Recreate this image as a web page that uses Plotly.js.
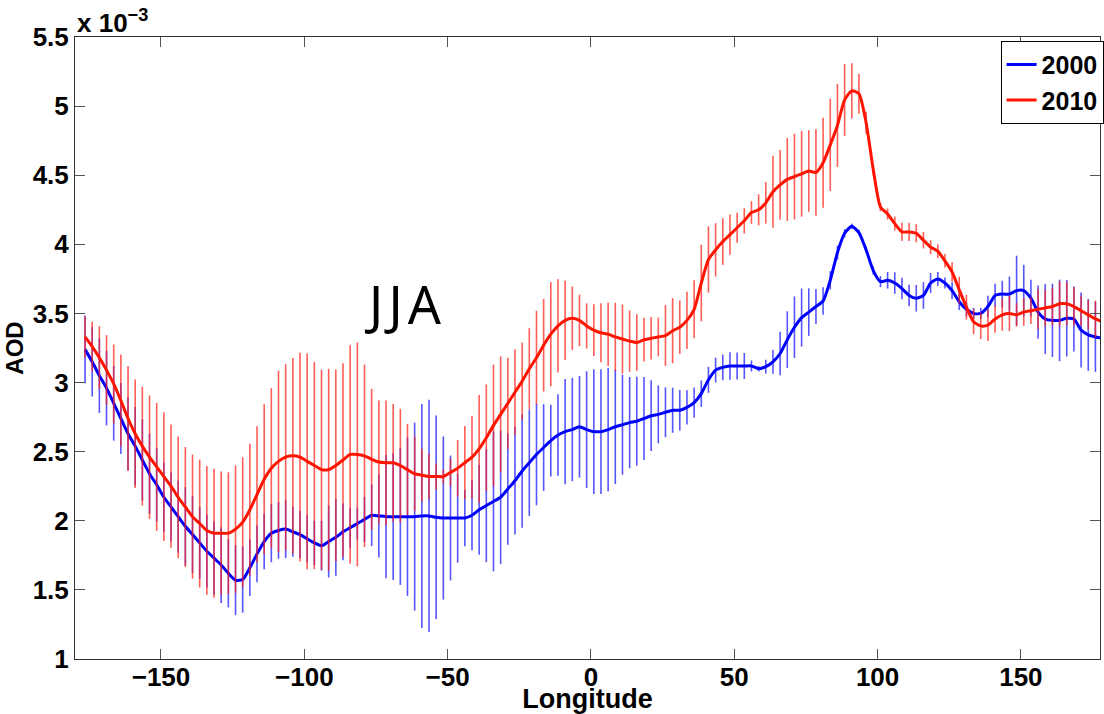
<!DOCTYPE html>
<html>
<head>
<meta charset="utf-8">
<script src="https://cdn.plot.ly/plotly-3.0.1.min.js"></script>
<style>html,body{margin:0;padding:0;background:#fff;}#chart{width:1104px;height:714px;}</style>
</head>
<body>
<div id="chart"></div>
<script>
// Longitude of each sample (degrees)
const longitude = [-176.5,-174,-171.5,-169,-166.5,-164,-161.5,-159,-156.5,-154,-151.5,-149,-146.5,-144,-141.5,-139,-136.5,-134,-131.5,-129,-126.5,-124,-121.5,-119,-116.5,-114,-111.5,-109,-106.5,-104,-101.5,-99,-96.5,-94,-91.5,-89,-86.5,-84,-81.5,-79,-76.5,-74,-71.5,-69,-66.5,-64,-61.5,-59,-56.5,-54,-51.5,-49,-46.5,-44,-41.5,-39,-36.5,-34,-31.5,-29,-26.5,-24,-21.5,-19,-16.5,-14,-11.5,-9,-6.5,-4,-1.5,1,3.5,6,8.5,11,13.5,16,18.5,21,23.5,26,28.5,31,33.5,36,38.5,41,43.5,46,48.5,51,53.5,56,58.5,61,63.5,66,68.5,71,73.5,76,78.5,81,83.5,86,88.5,91,93.5,96,98.5,101,103.5,106,108.5,111,113.5,116,118.5,121,123.5,126,128.5,131,133.5,136,138.5,141,143.5,146,148.5,151,153.5,156,158.5,161,163.5,166,168.5,171,173.5,176,178.5];

// AOD (x 10^-3), year 2000
const aod2000 = [3.24,3.15,3.05,2.96,2.85,2.74,2.63,2.54,2.44,2.34,2.26,2.17,2.10,2.03,1.96,1.90,1.84,1.78,1.73,1.68,1.62,1.57,1.575,1.66,1.76,1.85,1.91,1.93,1.94,1.92,1.90,1.87,1.84,1.82,1.85,1.88,1.92,1.95,1.98,
2.01,2.04,2.035,2.03,2.03,2.03,2.03,2.03,2.035,2.035,2.025,2.02,2.02,2.02,2.02,2.04,2.08,2.11,2.14,2.17,2.23,2.29,2.36,2.42,2.48,2.53,2.58,2.62,2.645,2.66,2.68,2.66,2.645,
2.645,2.66,2.68,2.695,2.71,2.72,2.74,2.76,2.77,2.785,2.80,2.80,2.82,2.855,2.92,3.02,3.09,3.11,3.12,3.12,3.12,3.12,3.10,3.115,3.15,3.21,3.31,3.40,3.47,3.51,3.55,
3.59,3.74,3.94,4.08,4.13,4.085,3.96,3.81,3.73,3.74,3.72,3.68,3.63,3.61,3.63,3.72,3.75,3.72,3.665,3.585,3.53,3.50,3.50,3.55,3.63,3.64,3.64,3.665,3.665,3.61,3.51,3.46,3.45,3.45,3.465,3.46,3.38,3.345,3.33,3.32];

// error half-width, year 2000
const err2000 = [0.245,0.25,0.27,0.27,0.27,0.257,0.265,0.283,0.295,0.29,0.265,0.25,0.25,0.26,0.283,0.277,0.26,0.265,0.265,0.274,0.247,0.253,0.24,0.205,0.205,0.2,0.21,0.205,0.21,0.18,0.17,0.17,0.16,0.18,0.26,0.277,0.205,0.145,0.115,
0.163,0.223,0.30,0.446,0.458,0.494,0.573,0.68,0.81,0.84,0.736,0.59,0.452,0.323,0.205,0.253,0.326,0.41,0.506,0.482,0.404,0.39,0.41,0.386,0.368,0.314,0.26,0.295,0.38,0.374,0.368,0.422,0.452,
0.452,0.446,0.414,0.362,0.33,0.322,0.30,0.256,0.21,0.18,0.163,0.147,0.124,0.11,0.096,0.094,0.09,0.093,0.10,0.097,0.094,0.04,0.02,0.05,0.087,0.157,0.205,0.223,0.21,0.172,0.127,0.10,0.066,0.05,
0.03,0.02,0.02,0.02,0.03,0.04,0.06,0.078,0.078,0.078,0.096,0.096,0.072,0.05,0.04,0.06,0.06,0.05,0.04,0.04,0.078,0.084,0.096,0.127,0.253,0.187,0.133,0.193,0.253,0.265,0.295,0.277,0.235,0.271,0.26,0.253,0.25];

// AOD (x 10^-3), year 2010
const aod2010 = [3.33,3.26,3.18,3.09,2.99,2.87,2.74,2.63,2.54,2.46,2.39,2.32,2.25,2.17,2.10,2.03,1.98,1.93,1.91,1.91,1.91,1.94,1.99,2.08,2.19,2.30,2.38,2.43,2.46,2.47,2.46,2.43,2.40,2.37,2.37,2.40,2.44,2.48,2.48,
2.47,2.445,2.425,2.42,2.42,2.40,2.37,2.34,2.33,2.32,2.32,2.32,2.35,2.38,2.42,2.46,2.52,2.60,2.69,2.77,2.85,2.93,3.01,3.10,3.18,3.27,3.35,3.41,3.45,3.465,3.45,3.41,3.38,
3.36,3.35,3.33,3.315,3.30,3.29,3.31,3.32,3.33,3.34,3.375,3.40,3.45,3.53,3.72,3.89,3.96,4.02,4.07,4.12,4.17,4.23,4.25,4.30,
4.38,4.43,4.47,4.49,4.51,4.53,4.52,4.59,4.72,4.86,5.045,5.11,5.09,4.88,4.54,4.27,4.22,4.15,4.09,4.09,4.08,4.03,3.98,3.95,3.88,3.80,3.67,3.545,3.44,3.41,3.415,3.46,3.49,3.50,3.49,3.51,3.52,3.53,3.54,3.55,3.57,3.57,3.55,3.52,3.49,3.46,3.44];

// error half-width, year 2010
const err2010 = [0.15,0.18,0.227,0.253,0.285,0.333,0.379,0.393,0.43,0.446,0.463,0.466,0.446,0.44,0.434,0.449,0.463,0.466,0.466,0.446,0.441,0.461,0.47,0.478,0.494,0.543,0.579,0.656,0.673,0.707,0.755,0.78,0.75,0.724,0.73,0.695,0.70,0.79,0.81,
0.66,0.51,0.446,0.45,0.425,0.41,0.33,0.27,0.19,0.165,0.094,0.05,0.10,0.205,0.265,0.30,0.39,0.386,0.44,0.42,0.33,0.31,0.28,0.293,0.34,0.335,0.377,0.338,0.287,0.23,0.187,0.163,0.187,0.213,0.23,0.247,0.25,0.222,0.205,
0.158,0.154,0.14,0.22,0.236,0.193,0.207,0.21,0.277,0.24,0.193,0.169,0.145,0.109,0.092,0.082,0.113,0.15,
0.26,0.253,0.30,0.31,0.31,0.295,0.313,0.326,0.334,0.30,0.26,0.20,0.145,0.08,0.04,0.03,0.04,0.05,0.066,0.066,0.066,0.06,0.05,0.05,0.05,0.07,0.096,0.09,0.09,0.096,0.115,0.10,0.115,0.127,0.085,0.10,0.097,0.145,0.133,0.135,0.163,0.157,0.139,0.11,0.106,0.133,0.13];

const seriesNames = ['2000', '2010'];
const xTicks = [-150, -100, -50, 0, 50, 100, 150];
const yTicks = [1, 1.5, 2, 2.5, 3, 3.5, 4, 4.5, 5, 5.5];

const F = '"Liberation Sans", Arial, Helvetica, sans-serif';

const traces = [
  {
    x: longitude, y: aod2000, name: seriesNames[0], type: 'scatter', mode: 'lines',
    line: {color: 'rgb(0,0,255)', width: 3, shape: 'spline', smoothing: 0.6},
    error_y: {type: 'data', array: err2000, visible: true, width: 0, thickness: 1.6, color: 'rgba(20,20,255,0.72)'}
  },
  {
    x: longitude, y: aod2010, name: seriesNames[1], type: 'scatter', mode: 'lines',
    line: {color: 'rgb(255,20,0)', width: 3, shape: 'spline', smoothing: 0.6},
    error_y: {type: 'data', array: err2010, visible: true, width: 0, thickness: 1.6, color: 'rgba(255,30,20,0.72)'}
  }
];

const axisCommon = {
  showline: true, linecolor: '#333', linewidth: 1, mirror: 'ticks',
  ticks: 'inside', ticklen: 10, tickwidth: 1, tickcolor: '#555',
  showgrid: false, zeroline: false,
  tickfont: {family: F, size: 26, color: '#000', weight: 'bold'}
};

const layout = {
  width: 1104, height: 714,
  margin: {l: 75, r: 0, t: 37, b: 55, pad: 0},
  paper_bgcolor: '#fff', plot_bgcolor: '#fff',
  showlegend: true,
  legend: {
    x: 0.903, y: 0.994, xanchor: 'left', yanchor: 'top',
    bordercolor: '#000', borderwidth: 1, bgcolor: '#fff',
    font: {family: F, size: 25, color: '#000', weight: 'bold'},
    tracegroupgap: 0, itemwidth: 30
  },
  xaxis: Object.assign({}, axisCommon, {
    range: [-180, 177.6], tickvals: xTicks, automargin: false, ticklabelstandoff: -5,
    title: {text: 'Longitude', font: {family: F, size: 27, color: '#000', weight: 'bold'}, standoff: 4}
  }),
  yaxis: Object.assign({}, axisCommon, {
    range: [1, 5.5], tickvals: yTicks, automargin: false,
    title: {text: 'AOD', font: {family: F, size: 24, color: '#000', weight: 'bold'}, standoff: 2}
  }),
  annotations: [
    {xref: 'paper', yref: 'paper', x: 0, y: 1, xanchor: 'left', yanchor: 'bottom', showarrow: false,
     text: '<b>x 10<sup>−3</sup></b>', font: {family: F, size: 26, color: '#000', weight: 'bold'}, xshift: 0, yshift: -3},
    {xref: 'x', yref: 'y', x: -65.4, y: 3.57, showarrow: false, text: 'J\u200aJ\u200aA',
     font: {family: '"Noto Sans", "DejaVu Sans", sans-serif', size: 52, color: '#000'}}
  ]
};

Plotly.newPlot('chart', traces, layout, {displayModeBar: false, staticPlot: true});
</script>
</body>
</html>
